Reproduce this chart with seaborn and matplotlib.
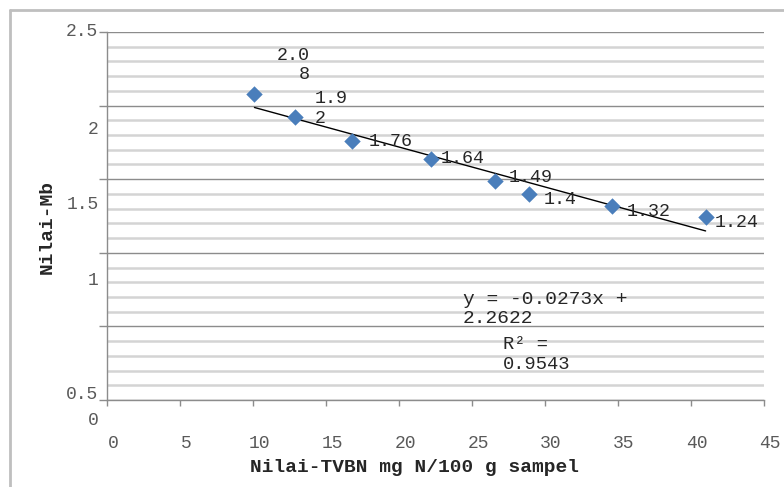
import numpy as np
import pandas as pd
import seaborn as sns
import matplotlib.pyplot as plt
from matplotlib.lines import Line2D
from matplotlib.ticker import MultipleLocator
import matplotlib.transforms as mtransforms

# Data
tvbn = [10.1, 12.9, 16.8, 22.2, 26.6, 28.9, 34.6, 41.0]
mb = [2.08, 1.92, 1.76, 1.64, 1.49, 1.40, 1.32, 1.24]
point_labels = ["2.0\n8", "1.9\n2", "1.76", "1.64", "1.49", "1.4", "1.32", "1.24"]
slope = -0.0273
intercept = 2.2622
r2 = 0.9543
x_ticks = [0, 5, 10, 15, 20, 25, 30, 35, 40, 45]
y_tick_labels = ["2.5", "2", "1.5", "1", "0.5", "0"]

df = pd.DataFrame({"tvbn": tvbn, "mb": mb})

sns.set_theme(style="white")
plt.rcParams["font.family"] = ["Liberation Mono", "DejaVu Sans"]

fig = plt.figure(figsize=(7.84, 4.87), dpi=100)
ax = fig.add_axes([107 / 784, 1 - 400 / 487, (764 - 107) / 784, (400 - 32) / 487])

# gridlines: light minor lines every 0.1, darker major every 0.5
ax.set_xlim(0, 45)
ax.set_ylim(0, 2.5)
ax.yaxis.set_major_locator(MultipleLocator(0.5))
ax.yaxis.set_minor_locator(MultipleLocator(0.1))
ax.grid(which="minor", axis="y", color="#d4d4d4", lw=1.8)
ax.grid(which="major", axis="y", color="#8c8c8c", lw=1.0)
ax.set_axisbelow(True)

sns.regplot(data=df, x="tvbn", y="mb", scatter=False, ci=None, truncate=True,
            color="black", line_kws={"lw": 1.0}, ax=ax)
sns.scatterplot(data=df, x="tvbn", y="mb", marker="D", s=70, color="#4a7ebb",
                edgecolor="#4a7ebb", linewidth=0, zorder=5, ax=ax)

# data labels
offsets = [(22, 29), (19, 9), (16, -1), (10, 0), (13, 3), (15, -6), (15, -6), (9, -5)]
for x, y, lab, (dx, dy) in zip(tvbn, mb, point_labels, offsets):
    ax.annotate(lab, (x, y), xytext=(dx, dy), textcoords="offset pixels",
                ha="left", va="center", multialignment="right" if lab.startswith("2.0") else "left",
                fontsize=13.2, color="#262626", linespacing=1.2, zorder=6)

# trendline equation
ax.text(0.542, 0.247, f"y = {slope}x +\n{intercept}", transform=ax.transAxes,
        ha="left", va="center", fontsize=14, color="#262626", linespacing=1.15)
ax.text(0.603, 0.124, f"R² =\n{r2}", transform=ax.transAxes,
        ha="left", va="center", fontsize=13.5, color="#262626", linespacing=1.25)

# axes styling
for side in ["top", "right"]:
    ax.spines[side].set_visible(False)
for side in ["left", "bottom"]:
    ax.spines[side].set_color("#8c8c8c")
    ax.spines[side].set_linewidth(1.0)

ax.set_xticks(x_ticks)
ax.set_xticklabels([str(t) for t in x_ticks])
ax.tick_params(axis="x", which="major", direction="out", length=4, width=1,
               color="#8c8c8c", pad=21, labelsize=13, labelcolor="#595959", bottom=True)
shift = mtransforms.ScaledTranslation(6 / 100, 0, fig.dpi_scale_trans)
for lab in ax.get_xticklabels():
    lab.set_transform(lab.get_transform() + shift)

ax.tick_params(axis="y", which="major", direction="out", length=6, width=1,
               color="#8c8c8c", left=True, labelleft=False)
ax.tick_params(axis="y", which="minor", left=False)

# y tick labels as they appear on the chart (displaced)
y_label_pos = [1.0, 0.734, 0.53, 0.326, 0.016, -0.057]
for lab, yp in zip(y_tick_labels, y_label_pos):
    ax.text(-0.013, yp, lab, transform=ax.transAxes, ha="right", va="center",
            fontsize=13, color="#595959")

ax.set_xlabel("")
ax.set_ylabel("")
fig.text(415 / 784, 1 - 467 / 487, "Nilai-TVBN mg N/100 g sampel", ha="center", va="center",
         fontsize=14, fontweight="bold", color="#262626")
fig.text(47 / 784, 1 - 227 / 487, "Nilai-Mb", ha="center", va="center", rotation=90,
         fontsize=14, fontweight="bold", color="#262626")

# chart frame (left and top edges visible)
fig.add_artist(Line2D([10 / 784, 10 / 784], [0, 1 - 10 / 487], color="#bfbfbf", lw=2))
fig.add_artist(Line2D([10 / 784, 1], [1 - 10 / 487, 1 - 10 / 487], color="#bfbfbf", lw=2))

fig.savefig("out.png", dpi=100, facecolor="white")
